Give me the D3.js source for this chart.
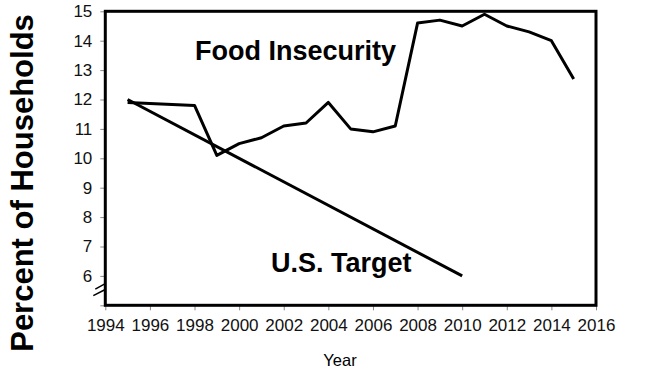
<!DOCTYPE html>
<html>
<head>
<meta charset="utf-8">
<script src="https://cdn.jsdelivr.net/npm/d3@7"></script>
<style>
  body { margin: 0; background: #fff; }
  svg { display: block; font-family: "Liberation Sans", Arial, sans-serif; }
  .tick text { fill: #111; }
</style>
</head>
<body>
<div id="chart"></div>
<script>
const years = [1995, 1998, 1999, 2000, 2001, 2002, 2003, 2004, 2005, 2006, 2007, 2008, 2009, 2010, 2011, 2012, 2013, 2014, 2015]
const insecurity = [11.9, 11.8, 10.1, 10.5, 10.7, 11.1, 11.2, 11.9, 11.0, 10.9, 11.1, 14.6, 14.7, 14.5, 14.9, 14.5, 14.3, 14.0, 12.7]
const targetYears = [1995, 2010]
const targetValues = [12.0, 6.0]
const xTicks = [1994, 1996, 1998, 2000, 2002, 2004, 2006, 2008, 2010, 2012, 2014, 2016]
const yTicks = [5, 6, 7, 8, 9, 10, 11, 12, 13, 14, 15]

const width = 660, height = 372
const margin = {top: 11.3, right: 64, bottom: 66.7, left: 105.3}
const font = '"Liberation Sans", Arial, sans-serif'

const svg = d3.select("#chart").append("svg")
  .attr("width", width).attr("height", height)

const x = d3.scaleLinear().domain([1994, 2016]).range([margin.left, width - margin.right])
const y = d3.scaleLinear().domain([5, 15]).range([height - margin.bottom, margin.top])

// axes (ticks only, frame drawn separately)
const yAxis = svg.append("g")
  .attr("transform", `translate(${margin.left},0)`)
  .call(d3.axisLeft(y).tickValues(yTicks).tickSize(5).tickPadding(8)
    .tickFormat(d => d === 5 ? "" : d))
yAxis.attr("font-family", font).attr("font-size", 17)
yAxis.select(".domain").remove()
yAxis.selectAll(".tick line").attr("stroke", "#888")

const xAxis = svg.append("g")
  .attr("transform", `translate(0,${height - margin.bottom})`)
  .call(d3.axisBottom(x).tickValues(xTicks).tickSize(5).tickPadding(9).tickFormat(d3.format("d")))
xAxis.attr("font-family", font).attr("font-size", 17)
xAxis.select(".domain").remove()
xAxis.selectAll(".tick line").attr("stroke", "#888")

// frame
svg.append("rect")
  .attr("x", x(1994)).attr("y", y(15))
  .attr("width", x(2016) - x(1994)).attr("height", y(5) - y(15))
  .attr("fill", "none").attr("stroke", "#000").attr("stroke-width", 3)

// axis break marks
const brk = svg.append("g").attr("stroke", "#000").attr("stroke-width", 1.5)
brk.append("line").attr("x1", x(1994) - 10).attr("y1", y(5.55)).attr("x2", x(1994) - 1).attr("y2", y(5.72))
brk.append("line").attr("x1", x(1994) - 12).attr("y1", y(5.33)).attr("x2", x(1994) - 1).attr("y2", y(5.52))

const line = d3.line().x(d => x(d[0])).y(d => y(d[1]))

svg.append("path")
  .datum(years.map((yr, i) => [yr, insecurity[i]]))
  .attr("d", line)
  .attr("fill", "none").attr("stroke", "#000").attr("stroke-width", 3)
  .attr("stroke-linejoin", "round")

svg.append("path")
  .datum(targetYears.map((yr, i) => [yr, targetValues[i]]))
  .attr("d", line)
  .attr("fill", "none").attr("stroke", "#000").attr("stroke-width", 3)

// labels
svg.append("text")
  .attr("x", 195).attr("y", 60)
  .style("font-size", "27px").style("font-weight", "bold")
  .text("Food Insecurity")

svg.append("text")
  .attr("x", 271).attr("y", 272)
  .style("font-size", "27px").style("font-weight", "bold")
  .text("U.S. Target")

svg.append("text")
  .attr("transform", `translate(33,183) rotate(-90)`)
  .attr("text-anchor", "middle")
  .style("font-size", "31px").style("font-weight", "bold")
  .text("Percent of Households")

svg.append("text")
  .attr("x", 340).attr("y", 366)
  .attr("text-anchor", "middle")
  .style("font-size", "16.5px")
  .text("Year")
</script>
</body>
</html>
